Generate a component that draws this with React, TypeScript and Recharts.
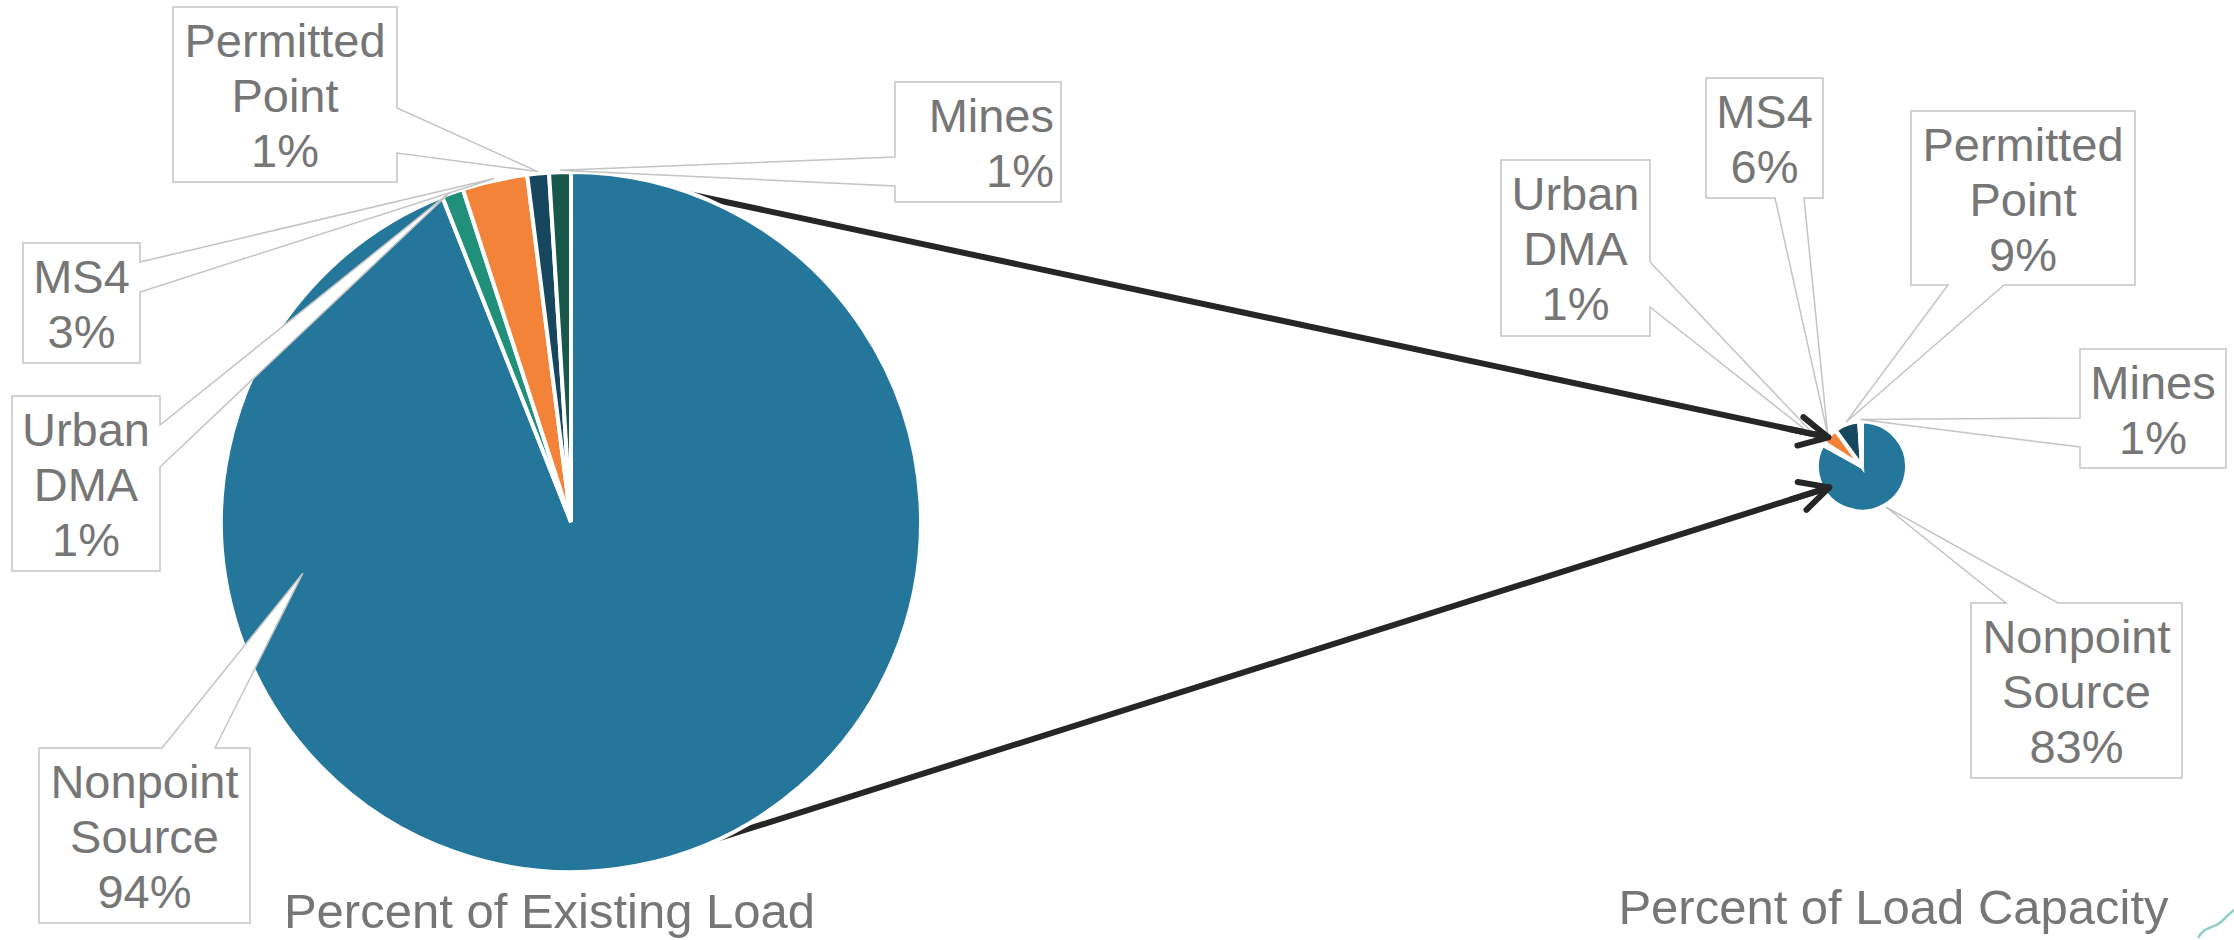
import React from 'react';
import { PieChart, Pie, Cell } from 'recharts';

const sources = ['Nonpoint Source', 'Urban DMA', 'MS4', 'Permitted Point', 'Mines'];
const existingLoad = [94, 1, 3, 1, 1];
const loadCapacity = [83, 1, 6, 9, 1];
const chartTitles = ['Percent of Existing Load', 'Percent of Load Capacity'];

const sliceColors = ['#24769A', '#21907A', '#F4833A', '#16475F', '#17584A'];

const existingData = sources.map((name, i) => ({ name, value: existingLoad[i] }));
const capacityData = sources.map((name, i) => ({ name, value: loadCapacity[i] }));

const W = 2234;
const H = 940;
const BIG = { cx: 571, cy: 522, r: 350 };
const SMALL = { cx: 1862, cy: 466.5, r: 45 };

const FONT = '"Liberation Sans", Arial, sans-serif';
const TEXT_GREY = '#767676';
const BORDER_GREY = '#C4C4C4';
const ARROW = '#262626';

type Side = 'top' | 'bottom' | 'left' | 'right';
type Callout = {
  x: number; y: number; w: number; h: number;
  side: Side; a: number; b: number;
  anchor?: 'middle' | 'end';
  pin?: [number, number]; // angle, fraction of radius (pointer aimed inside the pie)
};

// callout boxes, same order as sources
const existingCallouts: Callout[] = [
  { x: 39, y: 748, w: 211, h: 175, side: 'top', a: 162, b: 215, pin: [190.8, 0.78] },
  { x: 12, y: 396, w: 148, h: 175, side: 'right', a: 425, b: 467 },
  { x: 23, y: 243, w: 117, h: 120, side: 'right', a: 262, b: 292 },
  { x: 173, y: 7, w: 224, h: 175, side: 'right', a: 108, b: 153 },
  { x: 895, y: 82, w: 166, h: 120, side: 'left', a: 157, b: 186, anchor: 'end' },
];
const capacityCallouts: Callout[] = [
  { x: 1971, y: 603, w: 211, h: 175, side: 'top', a: 2006, b: 2058 },
  { x: 1501, y: 160, w: 149, h: 176, side: 'right', a: 262, b: 307 },
  { x: 1706, y: 78, w: 117, h: 120, side: 'bottom', a: 1775, b: 1804 },
  { x: 1911, y: 111, w: 224, h: 174, side: 'bottom', a: 1948, b: 2004 },
  { x: 2080, y: 349, w: 146, h: 119, side: 'left', a: 418, b: 447 },
];

// arrows: start angle on the big pie, end angle / distance on the small pie
const arrows = [
  { from: 85.2, to: 139.1, toR: 44.6 },
  { from: -78.6, to: -147.5, toR: 38.8 },
];

const RAD = Math.PI / 180;
const polar = (cx: number, cy: number, r: number, deg: number): [number, number] => [
  cx + r * Math.cos(-deg * RAD),
  cy + r * Math.sin(-deg * RAD),
];

function calloutPath(c: Callout, tx: number, ty: number) {
  const { x, y, w, h, a, b } = c;
  const R = x + w;
  const B = y + h;
  switch (c.side) {
    case 'right':
      return `M${x},${y} H${R} V${a} L${tx},${ty} L${R},${b} V${B} H${x} Z`;
    case 'left':
      return `M${x},${y} H${R} V${B} H${x} V${b} L${tx},${ty} L${x},${a} Z`;
    case 'top':
      return `M${x},${y} H${a} L${tx},${ty} L${b},${y} H${R} V${B} H${x} Z`;
    default:
      return `M${x},${y} H${R} V${B} H${b} L${tx},${ty} L${a},${B} H${x} Z`;
  }
}

function makeCallout(layout: Callout[], values: number[]) {
  return (props: any) => {
    const { cx, cy, outerRadius, midAngle, index } = props;
    const c = layout[index];
    const [tx, ty] = c.pin
      ? polar(cx, cy, outerRadius * c.pin[1], c.pin[0])
      : polar(cx, cy, outerRadius + 2, midAngle);
    const lines = [...sources[index].split(' '), `${values[index]}%`];
    const anchor = c.anchor ?? 'middle';
    const textX = anchor === 'end' ? c.x + c.w - 7 : c.x + c.w / 2;
    return (
      <g key={`callout-${index}`}>
        <path d={calloutPath(c, tx, ty)} fill="#fff" stroke={BORDER_GREY} strokeWidth={1.5} />
        {lines.map((t, k) => (
          <text
            key={k}
            x={textX}
            y={c.y + 50 + k * 55}
            textAnchor={anchor}
            fontFamily={FONT}
            fontSize={47}
            fill={TEXT_GREY}
          >
            {t}
          </text>
        ))}
      </g>
    );
  };
}

function arrowGeom(ar: { from: number; to: number; toR: number }) {
  const start = polar(BIG.cx, BIG.cy, BIG.r - 2, ar.from);
  const tip = polar(SMALL.cx, SMALL.cy, ar.toR, ar.to);
  const dx = start[0] - tip[0];
  const dy = start[1] - tip[1];
  const len = Math.hypot(dx, dy);
  const ux = dx / len;
  const uy = dy / len;
  const rot = (deg: number, l: number): [number, number] => {
    const c = Math.cos(deg * RAD);
    const s = Math.sin(deg * RAD);
    return [tip[0] + l * (ux * c - uy * s), tip[1] + l * (ux * s + uy * c)];
  };
  return { start, tip, arm1: rot(27, 32), arm2: rot(-27, 32), neck: rot(0, 40) };
}

const App: React.FC = () => {
  const geoms = arrows.map(arrowGeom);
  return (
    <div style={{ position: 'absolute', left: 0, top: 0, width: W, height: H, background: '#fff' }}>
      {/* arrow shafts sit underneath the pies */}
      <svg width={W} height={H} style={{ position: 'absolute', left: 0, top: 0 }}>
        {geoms.map((g, i) => (
          <line
            key={i}
            x1={g.start[0]} y1={g.start[1]} x2={g.tip[0]} y2={g.tip[1]}
            stroke={ARROW} strokeWidth={6} strokeLinecap="round"
          />
        ))}
      </svg>

      <div style={{ position: 'absolute', left: 0, top: 0 }}>
        <PieChart width={W} height={H} margin={{ top: 0, right: 0, bottom: 0, left: 0 }}>
          <Pie
            data={existingData}
            dataKey="value"
            nameKey="name"
            cx={BIG.cx}
            cy={BIG.cy}
            outerRadius={BIG.r}
            startAngle={90}
            endAngle={-270}
            stroke="#fff"
            strokeWidth={4}
            labelLine={false}
            label={makeCallout(existingCallouts, existingLoad)}
            isAnimationActive={false}
          >
            {existingData.map((d, i) => (
              <Cell key={d.name} fill={sliceColors[i]} />
            ))}
          </Pie>
          <Pie
            data={capacityData}
            dataKey="value"
            nameKey="name"
            cx={SMALL.cx}
            cy={SMALL.cy}
            outerRadius={SMALL.r}
            startAngle={90}
            endAngle={-270}
            stroke="#fff"
            strokeWidth={4}
            labelLine={false}
            label={makeCallout(capacityCallouts, loadCapacity)}
            isAnimationActive={false}
          >
            {capacityData.map((d, i) => (
              <Cell key={d.name} fill={sliceColors[i]} />
            ))}
          </Pie>
        </PieChart>
      </div>

      {/* arrow heads, titles */}
      <svg width={W} height={H} style={{ position: 'absolute', left: 0, top: 0, pointerEvents: 'none' }}>
        {geoms.map((g, i) => (
          <g key={i} stroke={ARROW} strokeWidth={6} strokeLinecap="round" strokeLinejoin="round" fill="none">
            <line x1={g.neck[0]} y1={g.neck[1]} x2={g.tip[0]} y2={g.tip[1]} />
            <polyline points={`${g.arm1[0]},${g.arm1[1]} ${g.tip[0]},${g.tip[1]} ${g.arm2[0]},${g.arm2[1]}`} />
          </g>
        ))}
        <text x={549.5} y={928} textAnchor="middle" fontFamily={FONT} fontSize={49} fill={TEXT_GREY}>
          {chartTitles[0]}
        </text>
        <text x={1893.5} y={924} textAnchor="middle" fontFamily={FONT} fontSize={49} fill={TEXT_GREY}>
          {chartTitles[1]}
        </text>
        <path
          d="M2198,938 C2204,926 2213,929 2221,922 S2230,912 2236,909"
          stroke="#8FCFC8" strokeWidth={2.5} fill="none"
        />
      </svg>
    </div>
  );
};

export default App;
